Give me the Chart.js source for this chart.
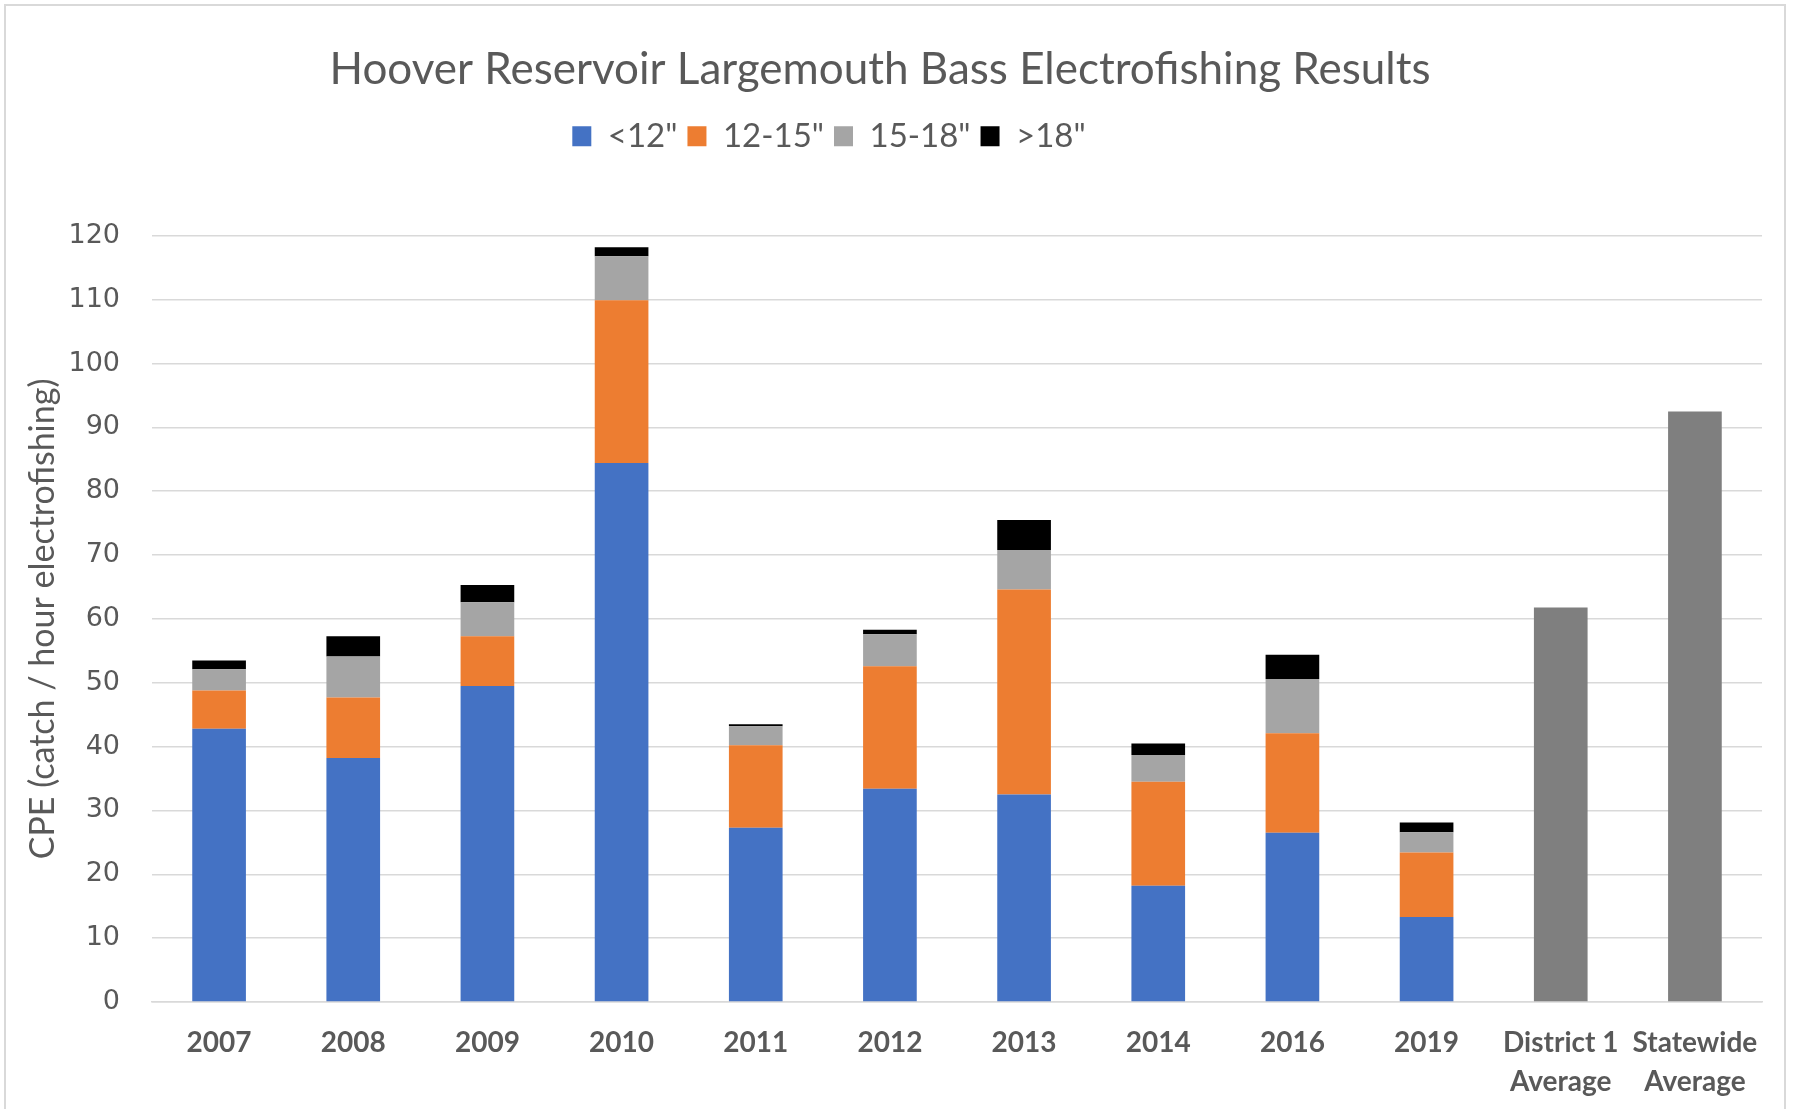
<!DOCTYPE html>
<html>
<head>
<meta charset="utf-8">
<script src="https://cdn.jsdelivr.net/npm/chart.js@4.4.1/dist/chart.umd.min.js"></script>
<style>
  html, body { margin: 0; padding: 0; background: #ffffff; }
  #wrap { position: relative; width: 1794px; height: 1109px; overflow: hidden; }
  #frame { position: absolute; left: 4px; top: 4px; width: 1782px; height: 1130px; border: 2px solid #d9d9d9; box-sizing: border-box; }
  #c { position: absolute; left: 0; top: 0; }
</style>
</head>
<body>
<div id="wrap">
  <div id="frame"></div>
  <canvas id="c" width="1794" height="1109"></canvas>
</div>
<script>
const categories = ['2007', '2008', '2009', '2010', '2011', '2012', '2013', '2014', '2016', '2019', ['District 1', 'Average'], ['Statewide', 'Average']];
const seriesNames = ['<12"', '12-15"', '15-18"', '>18"'];
const under12 = [42.8, 38.2, 49.5, 84.4, 27.3, 33.4, 32.5, 18.2, 26.5, 13.3, null, null];
const from12to15 = [6.0, 9.5, 7.8, 25.5, 12.9, 19.2, 32.1, 16.3, 15.6, 10.1, null, null];
const from15to18 = [3.3, 6.4, 5.3, 6.9, 3.0, 5.0, 6.2, 4.2, 8.5, 3.2, null, null];
const over18 = [1.4, 3.2, 2.7, 1.4, 0.3, 0.7, 4.7, 1.8, 3.8, 1.5, null, null];
const averages = [null, null, null, null, null, null, null, null, null, null, 61.8, 92.5];
const yMin = 0, yMax = 120, yStep = 10;

const TEXT = '#595959';

const shiftPlugin = {
  id: 'shiftBlocks',
  afterLayout(chart) {
    const l = chart.legend;
    if (l) {
      const d = 834 - (l.left + l.right + 10) / 2;
      l.left += d; l.right += d;
    }
    const t = chart.titleBlock;
    if (t) {
      const d2 = 880 - (t.left + t.right) / 2;
      t.left += d2; t.right += d2;
    }
  }
};

new Chart(document.getElementById('c'), {
  type: 'bar',
  data: {
    labels: categories,
    datasets: [
      { label: seriesNames[0], data: under12, backgroundColor: '#4472C4' },
      { label: seriesNames[1], data: from12to15, backgroundColor: '#ED7D31' },
      { label: seriesNames[2], data: from15to18, backgroundColor: '#A5A5A5' },
      { label: seriesNames[3], data: over18, backgroundColor: '#000000' },
      { label: 'Average', data: averages, backgroundColor: '#7F7F7F' }
    ]
  },
  options: {
    responsive: false,
    animation: false,
    devicePixelRatio: 1,
    layout: { padding: { left: 0, right: 32, top: 0, bottom: 0 } },
    datasets: { bar: { barPercentage: 0.40, categoryPercentage: 1.0, borderWidth: 0 } },
    plugins: {
      tooltip: { enabled: false },
      title: {
        display: true,
        text: 'Hoover Reservoir Largemouth Bass Electrofishing Results',
        color: TEXT,
        font: { family: 'Lato', size: 44, weight: 'normal', lineHeight: 1.2 },
        padding: { top: 43, bottom: 14 }
      },
      legend: {
        display: true,
        position: 'top',
        labels: {
          color: TEXT,
          font: { family: 'Lato', size: 33, lineHeight: 1.2 },
          boxWidth: 19,
          boxHeight: 20,
          padding: 10,
          filter: (item) => item.datasetIndex < 4
        }
      },
      subtitle: {
        display: true,
        text: ' ',
        weight: 500,
        font: { size: 10, lineHeight: 1 },
        padding: { top: 0, bottom: 63 }
      }
    },
    scales: {
      x: {
        stacked: true,
        grid: { display: false },
        border: { display: true, color: '#d9d9d9', width: 1.5 },
        ticks: {
          color: TEXT,
          font: { family: 'Lato', size: 28, weight: 'bold', lineHeight: 1.38 },
          padding: 14,
          maxRotation: 0,
          autoSkip: false
        },
        afterFit: (s) => { s.height = 107; }
      },
      y: {
        stacked: true,
        min: yMin,
        max: yMax,
        grid: { color: '#d9d9d9', lineWidth: 1.5, drawTicks: false },
        border: { display: false },
        ticks: {
          stepSize: yStep,
          color: TEXT,
          font: { family: 'DejaVu Sans', size: 27 },
          padding: 32
        },
        title: {
          display: true,
          text: 'CPE (catch / hour electrofishing)',
          color: TEXT,
          font: { family: 'Lato', size: 34, lineHeight: 1.2 },
          padding: { top: 23, bottom: 0 }
        },
        afterFit: (s) => { s.width = 152; }
      }
    }
  },
  plugins: [shiftPlugin]
});
</script>
</body>
</html>
